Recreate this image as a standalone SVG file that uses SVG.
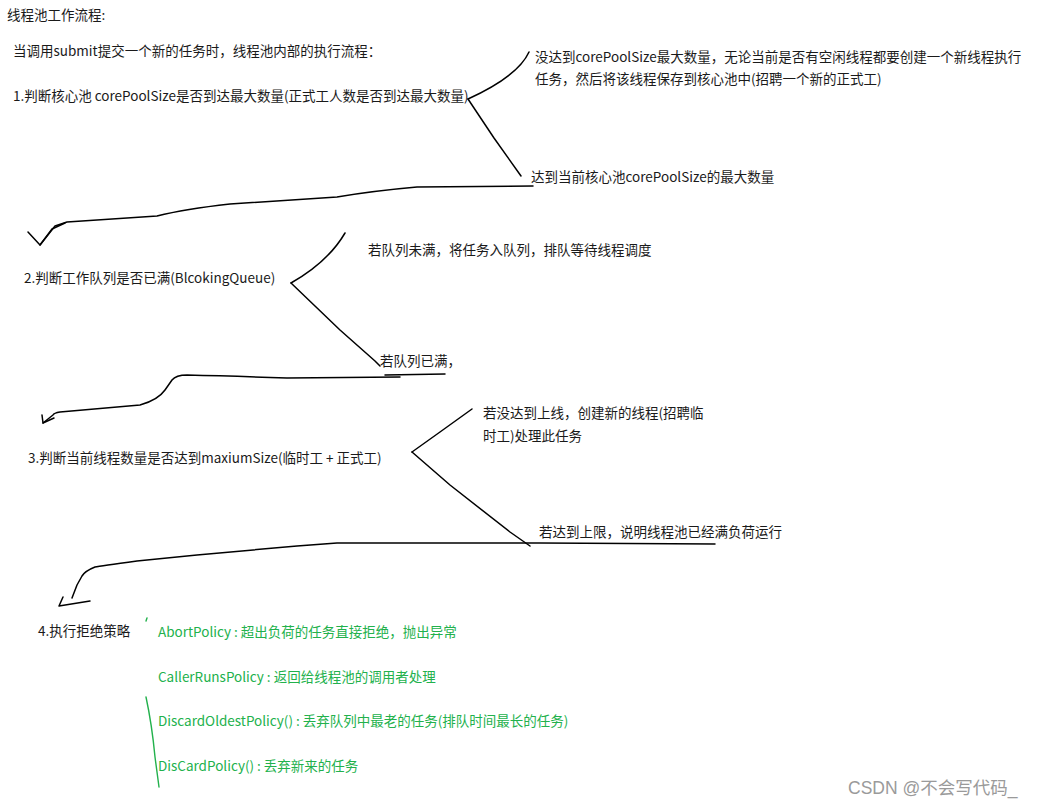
<svg xmlns="http://www.w3.org/2000/svg" width="1044" height="807" viewBox="0 0 1044 807">
<style>
  text { font-family: "Noto Sans CJK SC", "Noto Sans", sans-serif; font-size: 13.5px; fill: #1a1a1a; }
  .g { fill: #22b14c; }
  .wm { fill: #9a9a9a; font-size: 17.5px; font-family: "Liberation Sans", "Noto Sans CJK SC", sans-serif; }
  .ln { fill: none; stroke: #000; stroke-width: 1.5; stroke-linecap: round; stroke-linejoin: round; }
  .gl { fill: none; stroke: #22b14c; stroke-width: 1.4; stroke-linecap: round; }
</style>
<rect width="1044" height="807" fill="#fff"/>

<g id="title"><text x="7" y="20">线程池工作流程:</text></g>
<g id="intro"><text x="13" y="56">当调用submit提交一个新的任务时，线程池内部的执行流程：</text></g>

<g id="step1"><text x="13" y="101">1.判断核心池 corePoolSize是否到达最大数量(正式工人数是否到达最大数量)</text></g>
<g id="step1-no">
  <text x="535" y="62">没达到corePoolSize最大数量，无论当前是否有空闲线程都要创建一个新线程执行</text>
  <text x="535" y="84">任务，然后将该线程保存到核心池中(招聘一个新的正式工)</text>
</g>
<g id="step1-yes"><text x="531" y="182">达到当前核心池corePoolSize的最大数量</text></g>

<g id="step2"><text x="24" y="283">2.判断工作队列是否已满(BlcokingQueue)</text></g>
<g id="step2-no"><text x="368" y="255">若队列未满，将任务入队列，排队等待线程调度</text></g>
<g id="step2-yes"><text x="380" y="366">若队列已满，</text></g>

<g id="step3"><text x="28" y="463">3.判断当前线程数量是否达到maxiumSize(临时工 + 正式工)</text></g>
<g id="step3-no">
  <text x="483" y="418">若没达到上线，创建新的线程(招聘临</text>
  <text x="483" y="441">时工)处理此任务</text>
</g>
<g id="step3-yes"><text x="539" y="537">若达到上限，说明线程池已经满负荷运行</text></g>

<g id="step4"><text x="38" y="636">4.执行拒绝策略</text></g>
<g id="policies">
  <text class="g" x="158" y="637">AbortPolicy : 超出负荷的任务直接拒绝，抛出异常</text>
  <text class="g" x="158" y="682">CallerRunsPolicy : 返回给线程池的调用者处理</text>
  <text class="g" x="158" y="726">DiscardOldestPolicy() : 丢弃队列中最老的任务(排队时间最长的任务)</text>
  <text class="g" x="158" y="771">DisCardPolicy() : 丢弃新来的任务</text>
</g>

<g id="connectors">
  <!-- step 1 branches -->
  <path class="ln" d="M468,99 C492,88 520,72 529,52"/>
  <path class="ln" d="M468,99 L494,138 L521,176"/>
  <!-- arrow to step 2 -->
  <path class="ln" d="M533,186 L417,187 Q372,191 337,197 L230,204 Q185,209 157,216 L67,222 L55,226 L40,245 L28,232"/>
  <path class="ln" d="M40,245 L52,229 L65,223"/>
  <!-- step 2 branches -->
  <path class="ln" d="M291,283 Q328,262 345,233"/>
  <path class="ln" d="M291,283 L340,330 L375,361 L380,366"/>
  <!-- arrow to step 3 -->
  <path class="ln" d="M385,375 L445,374"/>
  <path class="ln" d="M400,377 L287,378 Q230,376 187,375 Q176,375 172,380 L165,390 Q158,400 140,405 L60,412 Q54,413 53,415 L43,423"/>
  <path class="ln" d="M42,415 L43,423 L54,418"/>
  <!-- step 3 branches -->
  <path class="ln" d="M472,409 L440,432 L412,452"/>
  <path class="ln" d="M412,452 L450,485 L510,532 L530,546"/>
  <!-- arrow to step 4 -->
  <path class="ln" d="M715,544 L540,543 L337,543 L297,546 L197,555 L137,561 Q100,566 95,567 Q85,571 82,576 L77,585 L72,598"/>
  <path class="ln" d="M63,597 L59,606 L90,601"/>
  <!-- green bracket -->
  <path class="gl" d="M146,621 L147,618"/>
  <path class="gl" d="M146,697 Q152,725 155,757 L159,787"/>
</g>

<g id="watermark"><text class="wm" x="848" y="794">CSDN @不会写代码_</text></g>
</svg>
